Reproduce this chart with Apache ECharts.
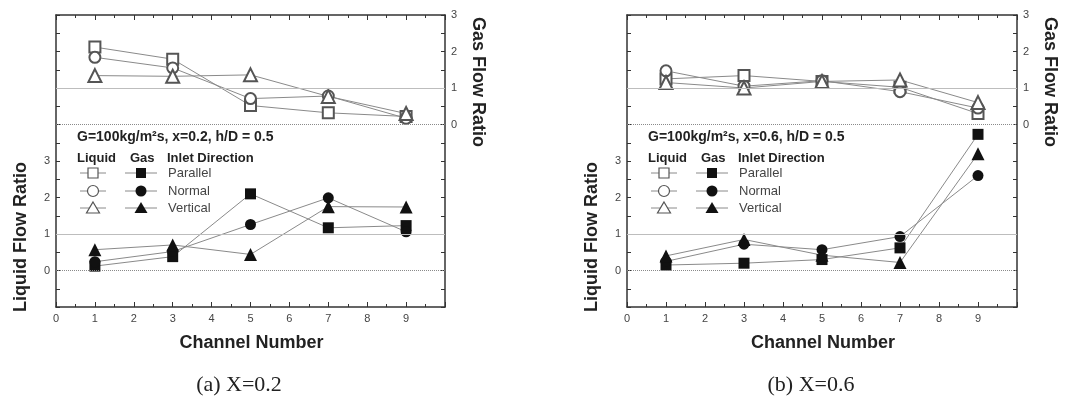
<!DOCTYPE html>
<html>
<head>
<meta charset="utf-8">
<script src="https://cdn.jsdelivr.net/npm/echarts@6/dist/echarts.min.js"></script>
<style>
  * { margin: 0; padding: 0; }
  html, body { background: #fff; }
  #chart { width: 1065px; height: 407px; }
</style>
</head>
<body>
<div id="chart"></div>
<script>
// channel positions on the x axis
const channels = [1, 3, 5, 7, 9];
const xTicks = [0, 1, 2, 3, 4, 5, 6, 7, 8, 9];
const yTickLabels = [0, 1, 2, 3];

// (a) X=0.2
const liqParallelA = [0.12, 0.38, 2.1, 1.17, 1.23];
const liqNormalA = [0.24, 0.52, 1.26, 1.99, 1.06];
const liqVerticalA = [0.57, 0.7, 0.44, 1.75, 1.74];
const gasParallelA = [2.12, 1.79, 0.52, 0.32, 0.22];
const gasNormalA = [1.84, 1.55, 0.71, 0.78, 0.17];
const gasVerticalA = [1.34, 1.32, 1.36, 0.77, 0.3];

// (b) X=0.6
const liqParallelB = [0.15, 0.2, 0.3, 0.62, 3.73];
const liqNormalB = [0.25, 0.72, 0.57, 0.93, 2.6];
const liqVerticalB = [0.4, 0.85, 0.42, 0.22, 3.2];
const gasParallelB = [1.25, 1.34, 1.18, 1.02, 0.3];
const gasNormalB = [1.47, 1.05, 1.2, 0.9, 0.45];
const gasVerticalB = [1.15, 1.0, 1.18, 1.22, 0.6];

const captions = ["(a) X=0.2", "(b) X=0.6"];
const conditions = ["G=100kg/m²s, x=0.2, h/D = 0.5", "G=100kg/m²s, x=0.6, h/D = 0.5"];
const directions = ["Parallel", "Normal", "Vertical"];

const panels = [
  { left: 56, width: 389, liq: [liqParallelA, liqNormalA, liqVerticalA], gas: [gasParallelA, gasNormalA, gasVerticalA] },
  { left: 627, width: 390, liq: [liqParallelB, liqNormalB, liqVerticalB], gas: [gasParallelB, gasNormalB, gasVerticalB] }
];

const TOP = 15, HEIGHT = 292;
const axisColor = "#333";
const lineColor = "#8a8a8a";
const font = "Liberation Sans, Arial, sans-serif";
const shapes = ["rect", "circle", "triangle"];

const grid = [], xAxis = [], yAxis = [], series = [], graphic = [];

function xAx(gi, top) {
  return {
    type: "value", gridIndex: gi, position: top ? "top" : "bottom",
    min: 0, max: 10, interval: 1,
    axisLine: { onZero: false, lineStyle: { color: axisColor, width: 1.5 } },
    axisTick: { inside: true, length: 5, lineStyle: { color: axisColor } },
    minorTick: { show: true, splitNumber: 2, length: 3, lineStyle: { color: axisColor } },
    splitLine: { show: false },
    axisLabel: top ? { show: false } : {
      color: "#444", fontSize: 11, fontFamily: font, margin: 6,
      formatter: v => (xTicks.indexOf(v) >= 0 ? String(v) : "")
    }
  };
}

function yAx(gi, right, min, max) {
  return {
    type: "value", gridIndex: gi, position: right ? "right" : "left",
    min: min, max: max, interval: 0.5,
    axisLine: { onZero: false, lineStyle: { color: axisColor, width: 1.5 } },
    axisTick: { inside: true, length: 4, lineStyle: { color: axisColor } },
    splitLine: { show: false },
    axisLabel: {
      color: "#444", fontSize: 11, fontFamily: font, margin: 6,
      formatter: v => (yTickLabels.indexOf(v) >= 0 ? String(v) : "")
    }
  };
}

function refLines() {
  return {
    silent: true, symbol: "none", label: { show: false }, animation: false,
    data: [
      { yAxis: 1, lineStyle: { color: "#bdbdbd", type: "solid", width: 1 } },
      { yAxis: 0, lineStyle: { color: "#8a8a8a", type: "dotted", width: 1 } }
    ]
  };
}

panels.forEach((p, gi) => {
  grid.push({ left: p.left, top: TOP, width: p.width, height: HEIGHT });
  xAxis.push(xAx(gi, false), xAx(gi, true));
  yAxis.push(yAx(gi, false, -1, 7), yAx(gi, true, -5, 3));
  const xi = gi * 2, yl = gi * 2, yr = gi * 2 + 1;

  p.liq.forEach((vals, k) => {
    series.push({
      type: "line", name: "Liquid " + directions[k], xAxisIndex: xi, yAxisIndex: yl,
      data: channels.map((c, i) => [c, vals[i]]),
      symbol: shapes[k], symbolSize: shapes[k] === "triangle" ? 13 : 11,
      itemStyle: { color: "#111" },
      lineStyle: { color: lineColor, width: 1 },
      markLine: k === 0 ? refLines() : undefined,
      z: 3
    });
  });
  p.gas.forEach((vals, k) => {
    series.push({
      type: "line", name: "Gas " + directions[k], xAxisIndex: xi, yAxisIndex: yr,
      data: channels.map((c, i) => [c, vals[i]]),
      symbol: "empty" + shapes[k].charAt(0).toUpperCase() + shapes[k].slice(1),
      symbolSize: shapes[k] === "triangle" ? 13 : 11,
      itemStyle: { color: "#555", borderWidth: 1.2 },
      lineStyle: { color: lineColor, width: 1 },
      markLine: k === 0 ? refLines() : undefined,
      z: 3
    });
  });

  // legend block
  const ox = p.left;
  graphic.push({
    type: "text", x: ox + 21, y: 137,
    style: { text: conditions[gi], font: "bold 14px " + font, fill: "#222", verticalAlign: "middle" }
  });
  [["Liquid", 21], ["Gas", 74], ["Inlet Direction", 111]].forEach(h => {
    graphic.push({
      type: "text", x: ox + h[1], y: 158,
      style: { text: h[0], font: "bold 13px " + font, fill: "#222", verticalAlign: "middle" }
    });
  });
  [173, 191, 208].forEach((ry, k) => {
    graphic.push({ type: "line", shape: { x1: ox + 24, y1: ry, x2: ox + 50, y2: ry }, style: { stroke: lineColor, lineWidth: 1 } });
    graphic.push({ type: "line", shape: { x1: ox + 69, y1: ry, x2: ox + 101, y2: ry }, style: { stroke: lineColor, lineWidth: 1 } });
    const cx1 = ox + 37, cx2 = ox + 85;
    const open = { fill: "#fff", stroke: "#555", lineWidth: 1.2 };
    const full = { fill: "#111" };
    if (k === 0) {
      graphic.push({ type: "rect", shape: { x: cx1 - 5, y: ry - 5, width: 10, height: 10 }, style: open });
      graphic.push({ type: "rect", shape: { x: cx2 - 5, y: ry - 5, width: 10, height: 10 }, style: full });
    } else if (k === 1) {
      graphic.push({ type: "circle", shape: { cx: cx1, cy: ry, r: 5.5 }, style: open });
      graphic.push({ type: "circle", shape: { cx: cx2, cy: ry, r: 5.5 }, style: full });
    } else {
      graphic.push({ type: "polygon", shape: { points: [[cx1, ry - 6], [cx1 + 6.5, ry + 5], [cx1 - 6.5, ry + 5]] }, style: open });
      graphic.push({ type: "polygon", shape: { points: [[cx2, ry - 6], [cx2 + 6.5, ry + 5], [cx2 - 6.5, ry + 5]] }, style: full });
    }
    graphic.push({
      type: "text", x: ox + 112, y: ry,
      style: { text: directions[k], font: "13px " + font, fill: "#444", verticalAlign: "middle" }
    });
  });

  // axis titles
  graphic.push({
    type: "text", x: ox - 35, y: 237, rotation: Math.PI / 2,
    style: { text: "Liquid Flow Ratio", font: "bold 18px " + font, fill: "#222", align: "center", verticalAlign: "middle" }
  });
  graphic.push({
    type: "text", x: ox + p.width + 33, y: 82, rotation: -Math.PI / 2,
    style: { text: "Gas Flow Ratio", font: "bold 18px " + font, fill: "#222", align: "center", verticalAlign: "middle" }
  });
  graphic.push({
    type: "text", x: ox + p.width / 2 + 1, y: 343,
    style: { text: "Channel Number", font: "bold 18px " + font, fill: "#222", align: "center", verticalAlign: "middle" }
  });
  graphic.push({
    type: "text", x: gi === 0 ? 239 : 811, y: 385,
    style: { text: captions[gi], font: "22px Liberation Serif, serif", fill: "#222", align: "center", verticalAlign: "middle" }
  });
});

const chart = echarts.init(document.getElementById("chart"), null, { renderer: "canvas" });
chart.setOption({
  animation: false,
  backgroundColor: "#fff",
  grid: grid,
  xAxis: xAxis,
  yAxis: yAxis,
  series: series,
  graphic: graphic
});
</script>
</body>
</html>
